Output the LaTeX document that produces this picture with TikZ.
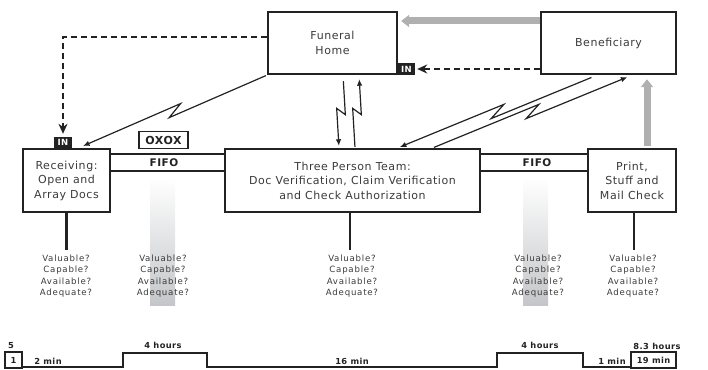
\documentclass[tikz,border=0pt]{standalone}
\usepackage{fontspec}
\setmainfont{DejaVu Sans}[LetterSpace=5]
\newfontfamily\qfont{DejaVu Sans}[LetterSpace=9]
\usetikzlibrary{arrows.meta,calc}
\definecolor{ink}{HTML}{222222}
\definecolor{txt}{HTML}{3A3A3A}
\definecolor{garrow}{HTML}{B0B0B0}
\definecolor{barbot}{HTML}{C4C6C9}
\newcommand\zigarrow[3]{\draw[#1] (#2) -- ($(#2)!0.54!(#3)!4.5pt!90:(#3)$) -- ($(#2)!0.46!(#3)!4.5pt!-90:(#3)$) -- (#3);}
\begin{document}
\begin{tikzpicture}[x=1pt,y=-1pt,
  box/.style={draw=ink, line width=2.4pt, inner sep=0pt, align=center, text=txt,
    font=\fontsize{11}{14.5}\selectfont},
  fifo/.style={font=\bfseries\fontsize{10.5}{12}\selectfont, text=ink, inner sep=0pt},
  oxox/.style={draw=ink, line width=1.5pt, inner sep=0pt, minimum width=49pt, minimum height=17pt,
    font=\bfseries\fontsize{11}{12}\selectfont, text=ink},
  inbox/.style={fill=ink, text=white, inner sep=0pt, font=\bfseries\fontsize{8.5}{9}\selectfont},
  chan/.style={draw=ink, line width=1.2pt},
  stem/.style={draw=ink, line width=2.6pt},
  dasharrow/.style={draw=ink, line width=1.3pt, dash pattern=on 6pt off 4pt, -{Stealth[length=10pt,width=9pt]}},
  infoarrow/.style={draw=ink, line width=1.2pt, -{Latex[length=6.5pt,width=5.5pt]}},
  grayarrow/.style={draw=garrow, line width=7pt, -{Triangle[length=8pt,width=12pt]}},
  qtext/.style={align=center, text=txt, inner sep=0pt, font=\qfont\fontsize{8.6}{11.3}\selectfont},
  tl/.style={font=\bfseries\fontsize{8.3}{9}\selectfont, text=ink, inner sep=0pt},
  tlbox/.style={draw=ink, line width=1.2pt, inner sep=0pt, font=\bfseries\fontsize{8.3}{9}\selectfont, text=ink},
  tline/.style={draw=ink, line width=1.2pt}
]
\useasboundingbox (0,0) rectangle (708,369);

% gradient bars
\shade[top color=white, bottom color=barbot] (150,178) rectangle (175,305);
\shade[top color=white, bottom color=barbot] (523,178) rectangle (548,305);

% boxes
\node[box, minimum width=129pt, minimum height=62pt] (fh) at (332.5,43) {Funeral\\Home};
\node[box, minimum width=135pt, minimum height=62pt] (ben) at (608.5,43) {Beneficiary};
\node[box, minimum width=87pt, minimum height=63pt] (rec) at (66.5,180.5) {Receiving:\\Open and\\Array Docs};
\node[box, minimum width=255pt, minimum height=63pt] (tpt) at (352.5,180.5) {Three Person Team:\\Doc Verification, Claim Verification\\and Check Authorization};
\node[box, minimum width=88pt, minimum height=63pt] (prt) at (632,180.5) {Print,\\Stuff and\\Mail Check};

% IN boxes
\node[inbox, minimum width=18pt, minimum height=11pt] (in1) at (63,142.5) {IN};
\node[inbox, minimum width=17pt, minimum height=12pt] (in2) at (406.5,69) {IN};

% OXOX
\node[oxox] (ox) at (163.5,140) {OXOX};

% FIFO channels
\draw[chan] (rec.east |- 0,154) -- (tpt.west |- 0,154);
\draw[chan] (rec.east |- 0,171) -- (tpt.west |- 0,171);
\node[fifo] (f1) at (164,163) {FIFO};
\draw[chan] (tpt.east |- 0,154) -- (prt.west |- 0,154);
\draw[chan] (tpt.east |- 0,171) -- (prt.west |- 0,171);
\node[fifo] (f2) at (537,163) {FIFO};

% gray physical flows
\draw[grayarrow, shorten >=3pt] (ben.west |- 0,21) -- (fh.east |- 0,21);
\draw[grayarrow, shorten >=4pt, shorten <=2pt] (prt.north -| 647,0) -- (ben.south -| 647,0);

% dashed flows
\coordinate (dc) at (63,37);
\draw[dasharrow, shorten >=3pt] (fh.west |- dc) -- (dc) -- (in1.north);
\draw[dasharrow, shorten >=2pt] (ben.west |- in2) -- (in2.east);

% electronic flows
\coordinate (a1) at (fh.south west);
\coordinate (a2) at (83,146);
\zigarrow{infoarrow, shorten <=1pt}{a1}{a2}
\coordinate (b1) at (fh.south -| 343,0);
\coordinate (b2) at (tpt.north -| 339,0);
\zigarrow{infoarrow, shorten <=6pt, shorten >=2pt}{b1}{b2}
\coordinate (c1) at (tpt.north -| 355,0);
\coordinate (c2) at (fh.south -| 359,0);
\zigarrow{infoarrow, shorten <=1pt, shorten >=4pt}{c1}{c2}
\coordinate (d1) at (ben.south -| 597,0);
\coordinate (d2) at (tpt.north -| 398,0);
\zigarrow{infoarrow, shorten <=6pt, shorten >=2pt}{d1}{d2}
\coordinate (e1) at (tpt.north -| 433,0);
\coordinate (e2) at (ben.south -| 632,0);
\zigarrow{infoarrow, shorten <=1pt, shorten >=5pt}{e1}{e2}

% questions
\node[qtext] (q1) at (66,276) {Valuable?\\Capable?\\Available?\\Adequate?};
\node[qtext] (q2) at (163,276) {Valuable?\\Capable?\\Available?\\Adequate?};
\node[qtext] (q3) at (352,276) {Valuable?\\Capable?\\Available?\\Adequate?};
\node[qtext] (q4) at (538,276) {Valuable?\\Capable?\\Available?\\Adequate?};
\node[qtext] (q5) at (633,276) {Valuable?\\Capable?\\Available?\\Adequate?};
\draw[stem] (rec.south) -- (rec.south |- 0,250);
\draw[stem] (tpt.south -| 350,0) -- (350,250);
\draw[stem] (prt.south -| 634,0) -- (634,250);

% timeline
\node[tlbox, minimum width=17pt, minimum height=16pt] (t1) at (13.5,360) {1};
\node[tlbox, minimum width=45pt, minimum height=16pt] (t19) at (653.5,360) {19 min};
\draw[tline] (t1.east |- 0,367) -- (123,367) -- (123,353) -- (207,353) -- (207,367)
  -- (497,367) -- (497,353) -- (583,353) -- (583,367) -- (t19.west |- 0,367);
\node[tl] (l5) at (11,346) {5};
\node[tl] (l2m) at (48,361) {2 min};
\node[tl] (l4a) at (163,345) {4 hours};
\node[tl] (l16) at (352,361) {16 min};
\node[tl] (l4b) at (540,345) {4 hours};
\node[tl] (l1m) at (612,361) {1 min};
\node[tl] (l83) at (657,346) {8.3 hours};
\end{tikzpicture}
\end{document}
